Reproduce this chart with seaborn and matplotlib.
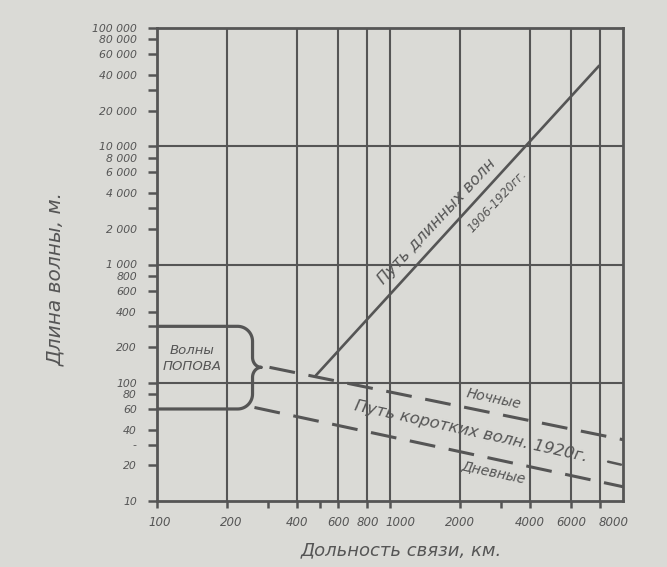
import numpy as np
import pandas as pd
import matplotlib
matplotlib.use("Agg")
import matplotlib.pyplot as plt
import matplotlib.transforms as mtransforms
import seaborn as sns

# ---- data ----
long_x = [480, 7900]          # Путь длинных волн 1906-1920 гг.
long_y = [115, 48000]
night_x = [304, 10000]        # Ночные
night_y = [135, 33]
day_x = [262, 10000]          # Дневные
day_y = [61.8, 13.2]
mid_x = [8630, 9800]          # short middle dash at right edge
mid_y = [21.5, 20.3]
popov_range = [60, 300]       # Волны Попова, м

x_ticks = [100, 200, 400, 600, 800, 1000, 2000, 4000, 6000, 8000]
x_labels = ["100", "200", "400", "600", "800", "1000", "2000", "4000", "6000", "8000"]
x_minor = [300, 500, 3000]
x_grid = [200, 400, 600, 800, 1000, 2000, 4000, 6000, 8000]

y_ticks = [10, 20, 40, 60, 80, 100, 200, 400, 600, 800, 1000, 2000, 4000, 6000,
           8000, 10000, 20000, 40000, 60000, 80000, 100000]
y_labels = ["10", "20", "40", "60", "80", "100", "200", "400", "600", "800", "1 000",
            "2 000", "4 000", "6 000", "8 000", "10 000", "20 000", "40 000",
            "60 000", "80 000", "100 000"]
y_minor = [30, 300, 3000, 30000]
y_minor_labels = ["-", "", "", ""]
y_grid = [100, 1000, 10000]

# ---- style ----
BG = "#dadad6"
INK = "#555555"
sns.set_style("white", {"axes.facecolor": BG, "figure.facecolor": BG})
plt.rcParams["font.family"] = ["DejaVu Sans"]
plt.rcParams["font.style"] = "italic"

fig = plt.figure(figsize=(6.67, 5.67), dpi=100)
fig.patch.set_facecolor(BG)
ax = fig.add_axes([157 / 667, 1 - 501 / 567, (623 - 157) / 667, (501 - 28) / 567])
ax.set_facecolor(BG)
ax.set_xscale("log")
ax.set_yscale("log")
ax.set_xlim(100, 10000)
ax.set_ylim(10, 100000)

# grid
for gx in x_grid:
    ax.axvline(gx, color=INK, lw=1.5, zorder=1)
for gy in y_grid:
    ax.axhline(gy, color=INK, lw=1.5, zorder=1)

# lines
df_long = pd.DataFrame({"x": long_x, "y": long_y})
sns.lineplot(data=df_long, x="x", y="y", ax=ax, color=INK, lw=1.9, zorder=3)
df_night = pd.DataFrame({"x": night_x, "y": night_y})
sns.lineplot(data=df_night, x="x", y="y", ax=ax, color=INK, lw=2.2,
             zorder=3).lines[-1].set_dashes((8.5, 4.5))
df_day = pd.DataFrame({"x": day_x, "y": day_y})
sns.lineplot(data=df_day, x="x", y="y", ax=ax, color=INK, lw=2.2,
             zorder=3).lines[-1].set_dashes((8.5, 4.5))
df_mid = pd.DataFrame({"x": mid_x, "y": mid_y})
sns.lineplot(data=df_mid, x="x", y="y", ax=ax, color=INK, lw=1.8, zorder=3)

# brace for "Волны Попова" built in log space from popov_range
yb, yt = np.log10(popov_range[0]), np.log10(popov_range[1])
xs = 2.0
xb, rx, rx2 = 2.41, 0.064, 0.038
ry, ry2 = 0.127, 0.085
ytip = np.log10(135)
def arc(cx, cy, a0, a1, rxx, ryy, n=20):
    t = np.radians(np.linspace(a0, a1, n))
    return cx + rxx * np.cos(t), cy + ryy * np.sin(t)
px, py = [xs], [yt]
for seg in [arc(xb - rx, yt - ry, 90, 0, rx, ry),
            arc(xb + rx2, ytip + ry2, 180, 270, rx2, ry2),
            arc(xb + rx2, ytip - ry2, 90, 180, rx2, ry2),
            arc(xb - rx, yb + ry, 0, -90, rx, ry)]:
    px.extend(seg[0]); py.extend(seg[1])
px.append(xs); py.append(yb)
ax.plot(10 ** np.array(px), 10 ** np.array(py), color=INK, lw=2.3, zorder=4,
        solid_capstyle="round", solid_joinstyle="round")

# ticks
ax.set_xticks(x_ticks)
ax.set_xticklabels(x_labels)
ax.set_xticks(x_minor, minor=True)
ax.set_xticklabels([""] * len(x_minor), minor=True)
ax.set_yticks(y_ticks)
ax.set_yticklabels(y_labels)
ax.set_yticks(y_minor, minor=True)
ax.set_yticklabels(y_minor_labels, minor=True)
ax.tick_params(axis="both", which="both", direction="out", color=INK,
               labelcolor=INK, width=1.8)
ax.tick_params(axis="x", which="both", labelsize=8.5, length=5, pad=6, bottom=True)
ax.tick_params(axis="y", which="both", labelsize=7.8, length=6.5, pad=8, left=True)
for lab in ax.get_xticklabels() + ax.get_yticklabels() + \
        ax.get_yticklabels(minor=True):
    lab.set_fontstyle("italic")
# hand-drawn label offsets of the original
for lab in ax.get_xticklabels():
    shift = {"1000": 10, "8000": 13, "100": 3, "200": 4}.get(lab.get_text(), 0)
    if shift:
        lab.set_transform(lab.get_transform() +
                          mtransforms.ScaledTranslation(shift / 100, 0,
                                                        fig.dpi_scale_trans))

for sp in ax.spines.values():
    sp.set_visible(True)
    sp.set_color(INK)
    sp.set_linewidth(2.0)

ax.set_xlabel("Дольность связи, км.", fontsize=13, color=INK, style="italic")
ax.set_ylabel("Длина волны, м.", fontsize=14.5, color=INK, style="italic")
ax.xaxis.set_label_coords(0.525, -0.085)
ax.yaxis.set_label_coords(-0.197, 0.47)

# annotations
tkw = dict(color=INK, style="italic", ha="center", va="center",
           rotation_mode="anchor", zorder=5)
ax.text(142, 160, "Волны\nПОПОВА", fontsize=9.5, linespacing=1.35, **tkw)
ax.text(1588, 2318, "Путь длинных волн", fontsize=11.5, rotation=47, **tkw)
ax.text(2894, 3436, "1906-1920гг.", fontsize=8.5, rotation=47, **tkw)
ax.text(2781, 73.7, "Ночные", fontsize=10, rotation=-12, **tkw)
ax.text(2230, 38.7, "Путь коротких волн. 1920г.", fontsize=11.8, rotation=-12.5, **tkw)
ax.text(2781, 17.7, "Дневные", fontsize=10, rotation=-12, **tkw)

fig.savefig("out.png", dpi=100, facecolor=BG)
